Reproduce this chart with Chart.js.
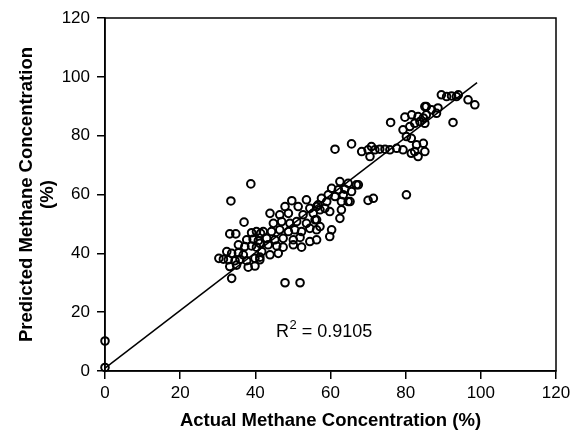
<!DOCTYPE html>
<html lang="en">
<head>
    <meta charset="UTF-8">
    <title>Predicted vs Actual Methane Concentration</title>
    <script src="https://cdn.jsdelivr.net/npm/chart.js"></script>
    <style>
        * { margin: 0; padding: 0; box-sizing: border-box; }
        html, body { width: 578px; height: 431px; background: #fff; overflow: hidden; }
        #wrap { width: 578px; height: 431px; }
    </style>
</head>
<body>
    <div id="wrap"><canvas id="methaneChart" width="578" height="431"></canvas></div>

    <script>
        // measured points (actual %, predicted %)
        const actual = [
            0, 0,
            38.8, 33.5, 37.0, 33.2, 34.8, 39.0, 40.3, 41.4, 37.7, 39.4, 40.8, 35.5, 37.2, 39.0, 40.3, 32.4,
            33.7, 35.5, 36.8, 30.3, 31.5, 32.8, 34.6, 35.9, 37.7, 39.9, 41.2, 33.2, 35.0, 38.1, 39.9, 33.7,
            43.9, 49.7, 53.6, 47.9, 51.4, 54.5, 56.3, 46.5, 48.8, 52.7, 55.4, 44.8, 47.0, 49.2, 51.0, 53.6,
            55.9, 42.1, 44.3, 46.5, 48.8, 50.5, 52.3, 54.5, 56.3, 43.0, 45.2, 47.4, 50.1, 51.9, 41.2, 43.4,
            45.7, 47.4, 50.1, 52.3, 54.5, 41.7, 43.9, 46.1, 41.2, 47.9, 51.9,
            61.2, 65.6, 68.3, 70.0, 70.5, 70.9, 62.5, 64.7, 67.4, 60.3, 62.1, 63.8, 65.6, 66.9, 59.4, 61.2,
            63.4, 64.7, 57.6, 59.0, 56.7, 62.9, 65.2, 70.0, 71.4, 58.5, 59.8, 57.2, 62.9, 62.5, 56.3, 57.2,
            60.3, 59.8, 56.3,
            76.0, 79.8, 81.6, 83.3, 84.7, 85.5, 79.3, 81.1, 82.4, 83.8, 80.2, 81.5, 71.8, 73.1, 74.5, 75.8,
            77.6, 79.3, 82.9, 84.7, 82.4, 85.1, 83.3, 81.5, 80.2,
            96.6, 98.4, 89.5, 90.9, 92.2, 93.5, 94.0, 92.6, 85.1, 86.9, 88.6, 88.2, 85.5, 85.1
        ];
        const predicted = [
            10.2, 1.2,
            63.6, 57.8, 50.6, 46.6, 46.6, 47.0, 47.4, 46.8, 44.6, 44.8, 44.3, 42.9, 42.3, 42.5, 42.1, 40.6,
            40.0, 40.2, 39.5, 38.3, 38.0, 37.8, 37.5, 38.0, 37.5, 38.3, 38.7, 35.5, 36.0, 35.3, 35.7, 31.5,
            53.6, 57.9, 58.2, 55.9, 55.9, 55.3, 55.9, 53.1, 53.6, 53.1, 53.6, 50.2, 50.8, 50.2, 50.8, 50.2,
            51.4, 47.4, 47.4, 48.0, 47.4, 48.0, 47.4, 48.5, 48.0, 45.1, 44.6, 45.1, 44.6, 45.4, 43.4, 42.9,
            42.5, 42.1, 42.9, 42.1, 44.0, 40.6, 39.5, 40.0, 37.8, 30.0, 30.0,
            75.4, 77.2, 74.6, 75.2, 72.9, 76.3, 64.4, 63.8, 63.3, 62.1, 61.6, 61.8, 61.0, 63.3, 59.9, 59.3,
            59.9, 57.6, 58.7, 57.6, 56.5, 57.6, 57.6, 58.0, 58.7, 55.3, 54.2, 54.8, 54.8, 51.9, 51.4, 49.1,
            48.0, 45.7, 44.6,
            84.5, 86.3, 87.1, 86.5, 86.0, 89.9, 82.0, 83.1, 84.2, 84.8, 79.7, 79.1, 75.2, 75.4, 75.4, 75.2,
            75.7, 75.2, 76.9, 77.4, 74.6, 74.6, 72.9, 74.0, 59.9,
            92.2, 90.5, 93.9, 93.3, 93.5, 93.3, 93.9, 84.5, 89.9, 88.8, 89.4, 87.6, 87.1, 84.2
        ];

        // regression line end points
        const fitX = [0, 99];
        const fitY = [1, 98];

        const axisMin = 0, axisMax = 120, axisStep = 20;
        const rSquared = '0.9105';

        const FONT = "'Liberation Sans', Arial, Helvetica, sans-serif";

        const frame = {
            id: 'frame',
            afterDraw(chart) {
                const { ctx, chartArea: a } = chart;
                ctx.save();
                ctx.strokeStyle = '#000';
                ctx.lineWidth = 1.5;
                ctx.strokeRect(a.left, a.top, a.right - a.left, a.bottom - a.top);

                // R^2 note
                const x = chart.scales.x.getPixelForValue(45.5);
                const y = chart.scales.y.getPixelForValue(11.6);
                ctx.fillStyle = '#000';
                ctx.textBaseline = 'alphabetic';
                ctx.textAlign = 'left';
                ctx.font = '18px ' + FONT;
                ctx.fillText('R', x, y);
                let w = ctx.measureText('R').width;
                ctx.font = '13px ' + FONT;
                ctx.fillText('2', x + w + 0.5, y - 8);
                w += ctx.measureText('2').width + 0.5;
                ctx.font = '18px ' + FONT;
                ctx.fillText(' = ' + rSquared, x + w, y);
                ctx.restore();
            }
        };

        const points = actual.map((v, i) => ({ x: v, y: predicted[i] }));
        const fitLine = fitX.map((v, i) => ({ x: v, y: fitY[i] }));

        const axis = (titleText, fit) => ({
            type: 'linear',
            min: axisMin,
            max: axisMax,
            ticks: { stepSize: axisStep, color: '#000', font: { family: FONT, size: 17 }, padding: 4 },
            grid: { drawOnChartArea: false, drawTicks: true, tickLength: 8, color: '#000', lineWidth: 1.5 },
            border: { display: true, color: '#000', width: 1.5 },
            title: { display: true, text: titleText, color: '#000',
                     font: { family: FONT, size: 18.5, weight: 'bold', lineHeight: 1.1 } },
            afterFit: fit
        });

        const xAxis = axis('Actual Methane Concentration (%)', s => { s.height = 60; });
        xAxis.title.padding = { top: 0, bottom: 0 };
        const yAxis = axis(['Predicted Methane Concentration', '(%)'], s => { s.width = 105; });
        yAxis.title.padding = { top: 17, bottom: 0 };
        yAxis.ticks.padding = 7;

        new Chart(document.getElementById('methaneChart'), {
            type: 'scatter',
            data: {
                datasets: [
                    {
                        type: 'line',
                        data: fitLine,
                        borderColor: '#000',
                        borderWidth: 1.5,
                        pointRadius: 0,
                        fill: false,
                        clip: false
                    },
                    {
                        data: points,
                        pointStyle: 'circle',
                        pointRadius: 3.8,
                        borderWidth: 2,
                        borderColor: '#000',
                        backgroundColor: 'rgba(0,0,0,0)',
                        clip: false
                    }
                ]
            },
            options: {
                responsive: false,
                animation: false,
                layout: { padding: { top: 18, right: 22, left: 0, bottom: 0 } },
                plugins: { legend: { display: false }, tooltip: { enabled: false } },
                scales: { x: xAxis, y: yAxis }
            },
            plugins: [frame]
        });
    </script>
</body>
</html>
